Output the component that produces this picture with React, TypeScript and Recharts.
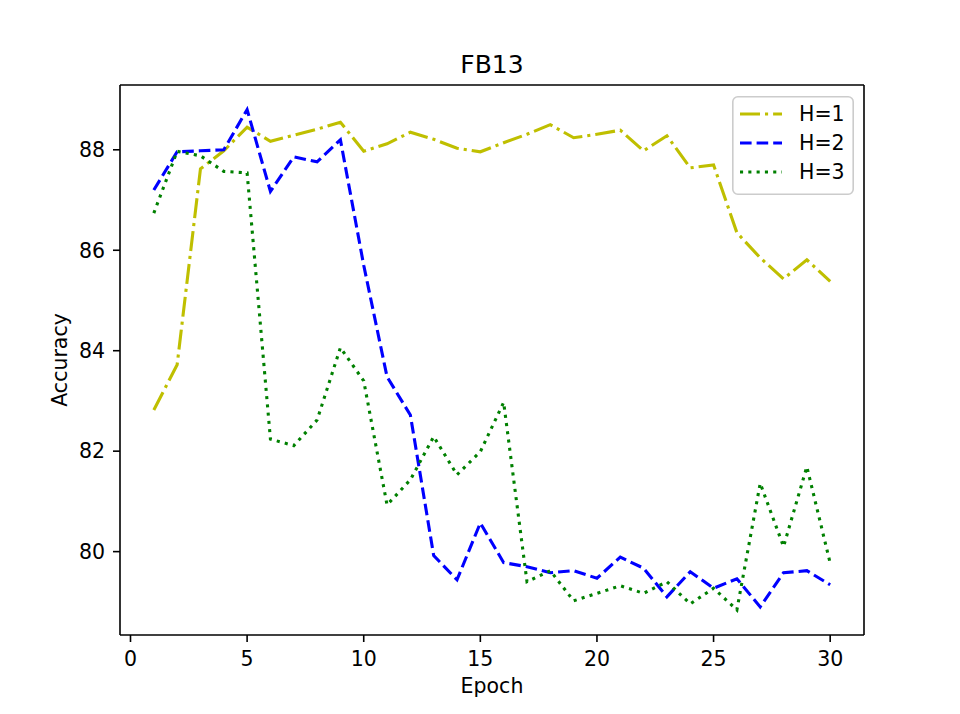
import React from 'react';
import { LineChart, Line, XAxis, YAxis, Legend, Customized, ReferenceLine } from 'recharts';

const epochs = [1, 2, 3, 4, 5, 6, 7, 8, 9, 10, 11, 12, 13, 14, 15, 16, 17, 18, 19, 20, 21, 22, 23, 24, 25, 26, 27, 28, 29, 30];

const h1 = [82.82, 83.72, 87.62, 87.98, 88.45, 88.17, 88.29, 88.41, 88.55, 87.97, 88.12, 88.35, 88.21, 88.03, 87.96,
  88.14, 88.31, 88.5, 88.24, 88.31, 88.39, 87.98, 88.28, 87.64, 87.7, 86.35, 85.85, 85.43, 85.81, 85.38];
const h2 = [87.2, 87.96, 87.98, 88.0, 88.8, 87.17, 87.86, 87.76, 88.2, 85.7, 83.48, 82.72, 79.92, 79.44, 80.57,
  79.78, 79.7, 79.58, 79.62, 79.47, 79.89, 79.67, 79.1, 79.6, 79.27, 79.46, 78.9, 79.58, 79.62, 79.34];
const h3 = [86.74, 87.97, 87.88, 87.57, 87.54, 82.24, 82.11, 82.62, 84.06, 83.4, 80.93, 81.43, 82.29, 81.53, 81.99,
  82.97, 79.4, 79.62, 79.02, 79.17, 79.32, 79.17, 79.4, 78.96, 79.27, 78.84, 81.36, 80.1, 81.69, 79.77];

const xTicks = [0, 5, 10, 15, 20, 25, 30];
const yTicks = [80, 82, 84, 86, 88];
const xDomain = [-0.45, 31.45];
const yDomain = [78.34, 89.29];

const FONT = '"DejaVu Sans", sans-serif';
const LW = 3.1;

const series = [
  { key: 'h1', name: 'H=1', color: '#bfbf00', dash: '20 5 3.1 5' },
  { key: 'h2', name: 'H=2', color: '#0000ff', dash: '11.6 5' },
  { key: 'h3', name: 'H=3', color: '#008000', dash: '3.1 5.2' },
];

const data = epochs.map((e, i) => ({ epoch: e, h1: h1[i], h2: h2[i], h3: h3[i] }));

const tickStyle = { fill: '#000', fontSize: 20.5, fontFamily: FONT };

const Title = () => (
  <text x={492} y={73} textAnchor="middle" fontSize={25} fontFamily={FONT} fill="#000">
    FB13
  </text>
);

const LegendBox = () => (
  <svg width={122} height={99} style={{ display: 'block' }}>
    <rect x={0.8} y={0.8} width={120.4} height={97.4} rx={5} fill="#fff" fillOpacity={0.8} stroke="#cccccc" strokeWidth={1.6} />
    {series.map((s, i) => {
      const cy = 18 + i * 29;
      return (
        <g key={s.key}>
          <line x1={8} x2={50} y1={cy} y2={cy} stroke={s.color} strokeWidth={LW} strokeDasharray={s.dash} />
          <text x={67} y={cy + 7.4} fontSize={20.5} fontFamily={FONT} fill="#000">
            {s.name}
          </text>
        </g>
      );
    })}
  </svg>
);

export default function App() {
  return (
    <div style={{ position: 'absolute', left: 0, top: 0, width: 960, height: 714, background: '#fff' }}>
      <LineChart width={960} height={714} data={data} margin={{ top: 85, right: 96, bottom: 0, left: 0 }}>
        <XAxis
          dataKey="epoch"
          type="number"
          domain={xDomain}
          ticks={xTicks}
          allowDataOverflow
          height={79}
          tickSize={7}
          tickMargin={9}
          stroke="#000"
          strokeWidth={1.6}
          tick={tickStyle}
          label={{ value: 'Epoch', position: 'insideBottom', offset: 21, style: { fill: '#000', fontSize: 20.5, fontFamily: FONT } }}
        />
        <YAxis
          type="number"
          domain={yDomain}
          ticks={yTicks}
          allowDataOverflow
          width={120}
          tickSize={7}
          tickMargin={8}
          stroke="#000"
          strokeWidth={1.6}
          tick={tickStyle}
          label={{ value: 'Accuracy', angle: -90, position: 'center', style: { fill: '#000', fontSize: 20.5, fontFamily: FONT } }}
        />
        <ReferenceLine y={yDomain[1]} stroke="#000" strokeWidth={1.6} ifOverflow="visible" />
        <ReferenceLine x={xDomain[1]} stroke="#000" strokeWidth={1.6} ifOverflow="visible" />
        {series.map((s) => (
          <Line
            key={s.key}
            type="linear"
            dataKey={s.key}
            name={s.name}
            stroke={s.color}
            strokeWidth={LW}
            strokeDasharray={s.dash}
            dot={false}
            activeDot={false}
            isAnimationActive={false}
          />
        ))}
        <Legend
          layout="horizontal"
          align="center"
          verticalAlign="middle"
          content={() => <LegendBox />}
          wrapperStyle={{ left: 732, top: 96, width: 122, height: 99 }}
        />
        <Customized component={Title} />
      </LineChart>
    </div>
  );
}
